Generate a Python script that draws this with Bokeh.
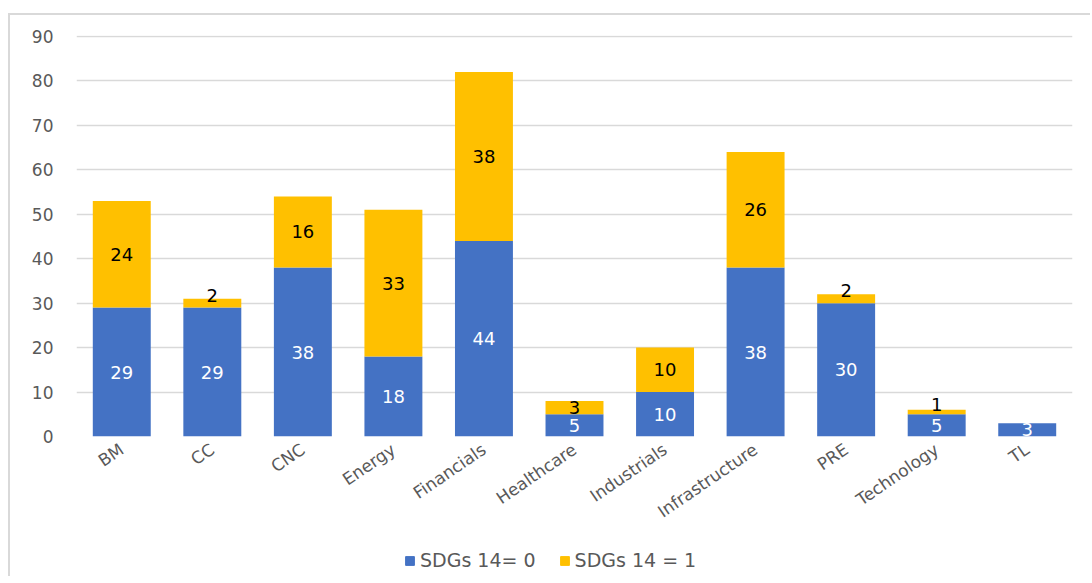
import math
from bokeh.plotting import figure
from bokeh.layouts import column
from bokeh.models import ColumnDataSource, LabelSet, Legend, LegendItem, FixedTicker
from bokeh.core.properties import value
from bokeh.embed import file_html
from bokeh.resources import INLINE

categories = ["BM", "CC", "CNC", "Energy", "Financials", "Healthcare", "Industrials",
              "Infrastructure", "PRE", "Technology", "TL"]
sdg14_0 = [29, 29, 38, 18, 44, 5, 10, 38, 30, 5, 3]
sdg14_1 = [24, 2, 16, 33, 38, 3, 10, 26, 2, 1, 0]
series_names = ["SDGs 14= 0", "SDGs 14 = 1"]
series_colors = ["#4472C4", "#FFC000"]
y_ticks = [0, 10, 20, 30, 40, 50, 60, 70, 80, 90]

FONT = "DejaVu Sans"

src = ColumnDataSource(dict(cat=categories, s0=sdg14_0, s1=sdg14_1))

p = figure(x_range=categories, y_range=(0, 90.2), width=1080, height=517,
           output_backend="svg", toolbar_location=None,
           min_border_left=66, min_border_right=18, min_border_top=20, min_border_bottom=95)
p.outline_line_color = None
p.background_fill_color = "white"
p.border_fill_color = "white"

rs = p.vbar_stack(["s0", "s1"], x="cat", width=0.64, color=series_colors, source=src,
                  line_color=None)

# data labels
lab0 = ColumnDataSource(dict(cat=categories, y=[v / 2 for v in sdg14_0],
                             t=[str(v) for v in sdg14_0]))
cats1, y1, t1, off1 = [], [], [], []
for c, a, b in zip(categories, sdg14_0, sdg14_1):
    if b > 0:
        cats1.append(c)
        y1.append(a + b / 2)
        t1.append(str(b))
        off1.append(8 if b <= 2 else 0)
lab1 = ColumnDataSource(dict(cat=cats1, y=y1, t=t1, off=off1))

p.add_layout(LabelSet(x="cat", y="y", text="t", source=lab0, text_color="white",
                      text_font=value(FONT), text_font_size=value("18px"),
                      text_align="center", text_baseline="middle"))
p.add_layout(LabelSet(x="cat", y="y", text="t", source=lab1, text_color="#000000",
                      text_font=value(FONT), text_font_size=value("18px"),
                      text_align="center", text_baseline="middle", y_offset="off"))

# axes
p.yaxis.ticker = FixedTicker(ticks=y_ticks)
p.yaxis.axis_line_color = None
p.yaxis.major_tick_line_color = None
p.yaxis.minor_tick_line_color = None
p.yaxis.major_tick_out = 0
p.yaxis.major_tick_in = 0
p.yaxis.major_label_standoff = 23
p.yaxis.major_label_text_font = FONT
p.yaxis.major_label_text_font_size = "17px"
p.yaxis.major_label_text_color = "#595959"

p.xaxis.axis_line_color = None
p.xaxis.major_tick_line_color = None
p.xaxis.major_tick_out = 0
p.xaxis.major_tick_in = 0
p.xaxis.major_label_orientation = 0.6
p.xaxis.major_label_standoff = 11
p.xaxis.major_label_text_font = FONT
p.xaxis.major_label_text_font_size = "17px"
p.xaxis.major_label_text_color = "#595959"

p.xgrid.grid_line_color = None
p.ygrid.grid_line_color = "#d9d9d9"
p.ygrid.grid_line_width = 1.5

# legend strip below the chart (legend swatches come from off-range stand-in bars)
pl = figure(width=1080, height=44, output_backend="svg", toolbar_location=None,
            x_range=(0, 1), y_range=(0, 1), x_axis_type=None, y_axis_type=None,
            min_border=0)
pl.outline_line_color = None
pl.grid.visible = False
lr0 = pl.vbar(x=[-10], top=[-10], width=0.1, color=series_colors[0])
lr1 = pl.vbar(x=[-10], top=[-10], width=0.1, color=series_colors[1])
legend = Legend(items=[LegendItem(label=series_names[0], renderers=[lr0]),
                       LegendItem(label=series_names[1], renderers=[lr1])],
                orientation="horizontal", location=(328, 5),
                label_text_font=FONT, label_text_font_size="19px",
                label_text_color="#595959", glyph_width=11, glyph_height=11,
                spacing=23, border_line_color=None, background_fill_alpha=0,
                margin=0, padding=2, label_standoff=5)
pl.add_layout(legend)

layout = column(p, pl, spacing=0)
layout.styles = {"border-top": "2px solid #d9d9d9", "border-left": "2px solid #d9d9d9",
                 "margin-top": "13px", "margin-left": "8px"}

open("out.html", "w").write(file_html(layout, INLINE))
